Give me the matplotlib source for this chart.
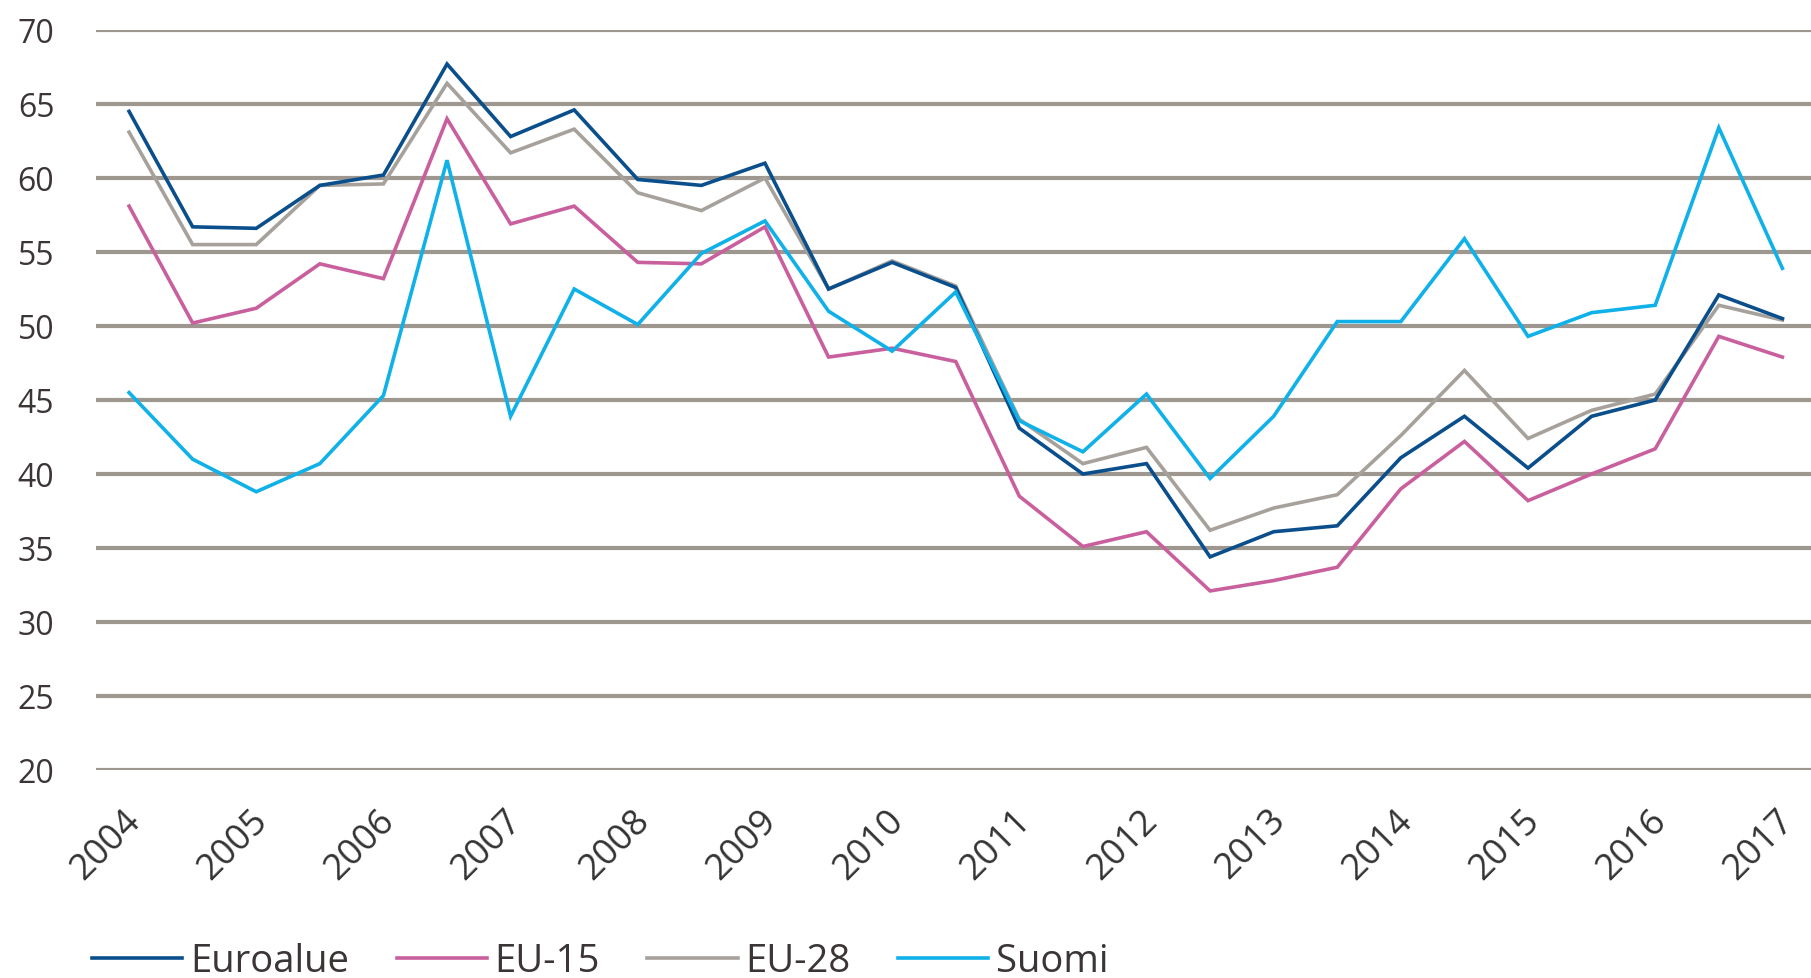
import matplotlib
matplotlib.use("Agg")
import matplotlib.pyplot as plt
import matplotlib.transforms as mtransforms
from matplotlib import font_manager

years = [str(y) for y in range(2004, 2018)]

euroalue = [64.5, 56.7, 56.6, 59.5, 60.2, 67.7, 62.8, 64.6, 59.9, 59.5, 61.0, 52.5, 54.3, 52.6,
            43.1, 40.0, 40.7, 34.4, 36.1, 36.5, 41.1, 43.9, 40.4, 43.9, 45.0, 52.1, 50.5]
eu15 = [58.1, 50.2, 51.2, 54.2, 53.2, 64.0, 56.9, 58.1, 54.3, 54.2, 56.7, 47.9, 48.5, 47.6,
        38.5, 35.1, 36.1, 32.1, 32.8, 33.7, 39.0, 42.2, 38.2, 40.0, 41.7, 49.3, 47.9]
eu28 = [63.1, 55.5, 55.5, 59.5, 59.6, 66.4, 61.7, 63.3, 59.0, 57.8, 60.0, 52.5, 54.4, 52.7,
        43.7, 40.7, 41.8, 36.2, 37.7, 38.6, 42.6, 47.0, 42.4, 44.3, 45.4, 51.4, 50.4]
suomi = [45.5, 41.0, 38.8, 40.7, 45.3, 61.2, 43.9, 52.5, 50.1, 54.9, 57.1, 51.0, 48.3, 52.3,
         43.6, 41.5, 45.4, 39.7, 43.9, 50.3, 50.3, 55.9, 49.3, 50.9, 51.4, 63.4, 53.9]

series_names = ["Euroalue", "EU-15", "EU-28", "Suomi"]
yticks = [20, 25, 30, 35, 40, 45, 50, 55, 60, 65, 70]

available = {f.name for f in font_manager.fontManager.ttflist}
fam = [f for f in ["Liberation Sans Narrow", "Open Sans", "DejaVu Sans"] if f in available]
plt.rcParams["font.family"] = fam

fig = plt.figure(figsize=(18.11, 9.79), dpi=100)
ax = fig.add_axes([96 / 1811, 1 - 771 / 979, 1 - 96 / 1811, (771 - 31) / 979])

x = list(range(len(euroalue)))
colors = {"Euroalue": "#0a4f8c", "EU-15": "#c9609d", "EU-28": "#a7a19b", "Suomi": "#0fb1e8"}
data = {"Euroalue": euroalue, "EU-15": eu15, "EU-28": eu28, "Suomi": suomi}
zorders = {"Euroalue": 4, "EU-15": 3, "EU-28": 2, "Suomi": 5}
handles = []
for name in series_names:
    h, = ax.plot(x, data[name], color=colors[name], lw=2.6, zorder=zorders[name],
                 solid_joinstyle="miter", label=name)
    handles.append(h)

ax.set_ylim(20, 70)
ax.set_xlim(-0.52, 26.45)
ax.set_yticks(yticks)
ax.yaxis.grid(True, color="#9d978f", lw=3.0, zorder=0)
ax.set_axisbelow(True)
for s in ax.spines.values():
    s.set_visible(False)
ax.tick_params(axis="both", length=0)
ax.tick_params(axis="y", labelsize=23, labelcolor="#3b3535", pad=30)
ax.set_yticklabels([str(v) for v in yticks])

ax.set_xticks(x[::2])
ax.set_xticklabels(years, rotation=45, ha="right", va="top", fontsize=26, color="#333333")
ax.tick_params(axis="x", pad=23)
offset = mtransforms.ScaledTranslation(19 / 100, 0, fig.dpi_scale_trans)
for lab in ax.get_xticklabels():
    lab.set_transform(lab.get_transform() + offset)

fig.legend(handles=handles, labels=series_names, loc="center left",
           bbox_to_anchor=(92 / 1811, 1 - 962 / 979), ncol=4, frameon=False,
           fontsize=27.5, handlelength=2.36, handletextpad=0.2, columnspacing=1.25,
           borderpad=0, borderaxespad=0, labelcolor="#3b3535")

fig.savefig("out.png", dpi=100)
